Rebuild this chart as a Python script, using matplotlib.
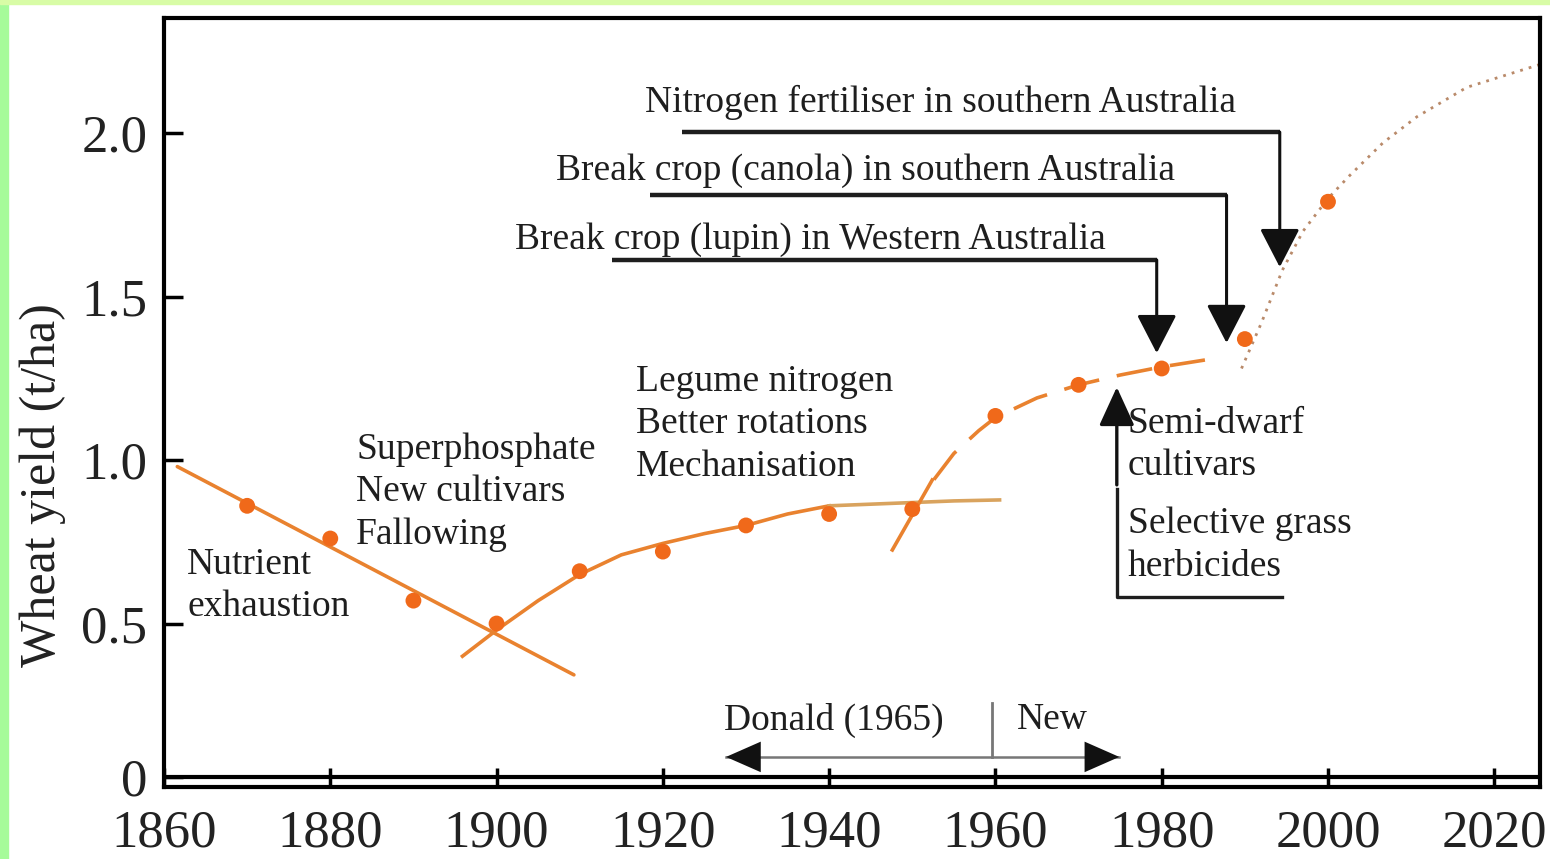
import numpy as np
import matplotlib
matplotlib.use("Agg")
import matplotlib.pyplot as plt
from matplotlib.patches import Rectangle

plt.rcParams['font.family'] = ['Liberation Serif', 'DejaVu Serif']

# yield observations (t/ha), one per decade
years = [1870, 1880, 1890, 1900, 1910, 1920, 1930, 1940, 1950, 1960, 1970, 1980, 1990, 2000]
yields = [0.86, 0.76, 0.57, 0.50, 0.66, 0.72, 0.80, 0.835, 0.85, 1.135, 1.23, 1.28, 1.37, 1.79]

# fitted trend lines
decline_x = [1861.6, 1909.3]
decline_y = [0.98, 0.343]
rise_x = [1895.9, 1900, 1905, 1910, 1915, 1920, 1925, 1930, 1935, 1940]
rise_y = [0.40, 0.48, 0.57, 0.65, 0.71, 0.745, 0.775, 0.80, 0.835, 0.86]
flat_x = [1940, 1945, 1950, 1955, 1960.5]
flat_y = [0.86, 0.865, 0.87, 0.875, 0.878]
steep_x = [1947.6, 1952.4]
steep_y = [0.725, 0.939]
dash_x = [1952.6, 1955, 1958, 1960, 1965, 1970, 1975, 1980, 1985.2]
dash_y = [0.94, 1.02, 1.09, 1.13, 1.19, 1.23, 1.26, 1.285, 1.306]
dot_x = [1989.6, 1992, 1994.5, 1997, 2000, 2002.6, 2006.6, 2010.7, 2016.7, 2025.5]
dot_y = [1.28, 1.42, 1.58, 1.70, 1.80, 1.87, 1.97, 2.05, 2.14, 2.21]

xticks = [1860, 1880, 1900, 1920, 1940, 1960, 1980, 2000, 2020]
yticks = [0.03, 0.5, 1.0, 1.5, 2.0]
ytick_labels = ['0', '0.5', '1.0', '1.5', '2.0']

# annotation arrows: (label, label x, label y, bar start x, bar end x, bar y, tip y)
top_arrows = [
    ("Nitrogen fertiliser in southern Australia", 1917.8, 2.095, 1922.3, 1994.2, 2.003, 1.59),
    ("Break crop (canola) in southern Australia", 1907.2, 1.884, 1918.4, 1987.8, 1.81, 1.358),
    ("Break crop (lupin) in Western Australia", 1902.2, 1.673, 1913.9, 1979.4, 1.612, 1.327),
]
blocks = [
    ("Legume nitrogen\nBetter rotations\nMechanisation", 1916.8, 1.110),
    ("Superphosphate\nNew cultivars\nFallowing", 1883.1, 0.902),
    ("Nutrient\nexhaustion", 1862.8, 0.616),
    ("Semi-dwarf\ncultivars", 1975.9, 1.046),
    ("Selective grass\nherbicides", 1975.9, 0.740),
]

orange = '#f0691a'
line_col = '#e9822f'
tan = '#d9a35e'
ink = '#1e1e1e'
fs = 27

fig = plt.figure(figsize=(15.5, 8.59), dpi=100)
fig.patches.append(Rectangle((0, 0), 8 / 1550, 1, transform=fig.transFigure,
                             color='#a6fb9a', zorder=0))
fig.patches.append(Rectangle((0, 1 - 4 / 859), 1, 4 / 859, transform=fig.transFigure,
                             color='#d8fca6', zorder=0))
ax = fig.add_axes([164 / 1550, 72 / 859, 1376 / 1550, 769 / 859])

# trend lines
ax.plot(decline_x, decline_y, color=line_col, lw=2.6, solid_capstyle='round')
ax.plot(rise_x, rise_y, color=line_col, lw=2.6)
ax.plot(flat_x, flat_y, color=tan, lw=2.6)
ax.plot(steep_x, steep_y, color=line_col, lw=2.6)
ax.plot(dash_x, dash_y, color=line_col, lw=2.6, dashes=(10, 5))
ax.plot(dot_x, dot_y, color='#b98a6a', lw=2.0, ls=(0, (1, 2.2)))
ax.scatter(years, yields, s=130, color=orange, zorder=5, edgecolors='none')

# top arrows with horizontal bars
for label, tx, ty, x0, x1, by, tip in top_arrows:
    ax.text(tx, ty, label, fontsize=fs, color=ink, va='center', ha='left')
    ax.plot([x0, x1], [by, by], color=ink, lw=3.2, solid_capstyle='butt')
    ax.annotate('', xy=(x1, tip), xytext=(x1, by),
                arrowprops=dict(arrowstyle='-|>,head_length=1.2,head_width=0.62',
                                mutation_scale=20, color='#111111', lw=2.2,
                                shrinkA=0, shrinkB=0))

for label, tx, ty in blocks:
    ax.text(tx, ty, label, fontsize=fs, color=ink, va='center', ha='left',
            linespacing=1.3)

# semi-dwarf arrow and herbicide bracket
ax.annotate('', xy=(1974.6, 1.223), xytext=(1974.6, 0.924),
            arrowprops=dict(arrowstyle='-|>,head_length=1.2,head_width=0.55',
                            mutation_scale=20, color='#111111', lw=2.4,
                            shrinkA=0, shrinkB=0))
ax.plot([1974.6, 1974.6, 1994.5], [0.911, 0.581, 0.581], color=ink, lw=2.4)

# Donald (1965) / New timeline
ax.plot([1927.6, 1974.9], [0.092, 0.092], color='#777777', lw=1.8)
ax.plot([1959.6, 1959.6], [0.092, 0.257], color='#777777', lw=2.0)
for tip in (1927.6, 1974.9):
    ax.annotate('', xy=(tip, 0.092), xytext=(1959.6, 0.092),
                arrowprops=dict(arrowstyle='-|>,head_length=1.25,head_width=0.55',
                                mutation_scale=20, color='#111111', lw=0,
                                shrinkA=0, shrinkB=0))
ax.text(1927.3, 0.205, "Donald (1965)", fontsize=fs, color=ink, va='center')
ax.text(1962.6, 0.205, "New", fontsize=fs, color=ink, va='center')

# axes
ax.set_xlim(1860, 2025.5)
ax.set_ylim(0, 2.352)
ax.axhline(0.03, color='black', lw=3)
for s in ax.spines.values():
    s.set_linewidth(3)
ax.set_xticks(xticks)
ax.set_xticklabels([str(x) for x in xticks])
ax.set_yticks(yticks)
ax.set_yticklabels(ytick_labels)
ax.tick_params(axis='x', direction='in', length=14, width=2.5, pad=16,
               labelsize=38, labelcolor='#222222')
ax.tick_params(axis='y', direction='in', length=14, width=2.5, pad=12,
               labelsize=38, labelcolor='#222222')
ax.set_ylabel("Wheat yield (t/ha)", fontsize=36, color='#222222')
ax.yaxis.set_label_coords(-0.071, 0.393)

fig.savefig('out.png', dpi=100)
